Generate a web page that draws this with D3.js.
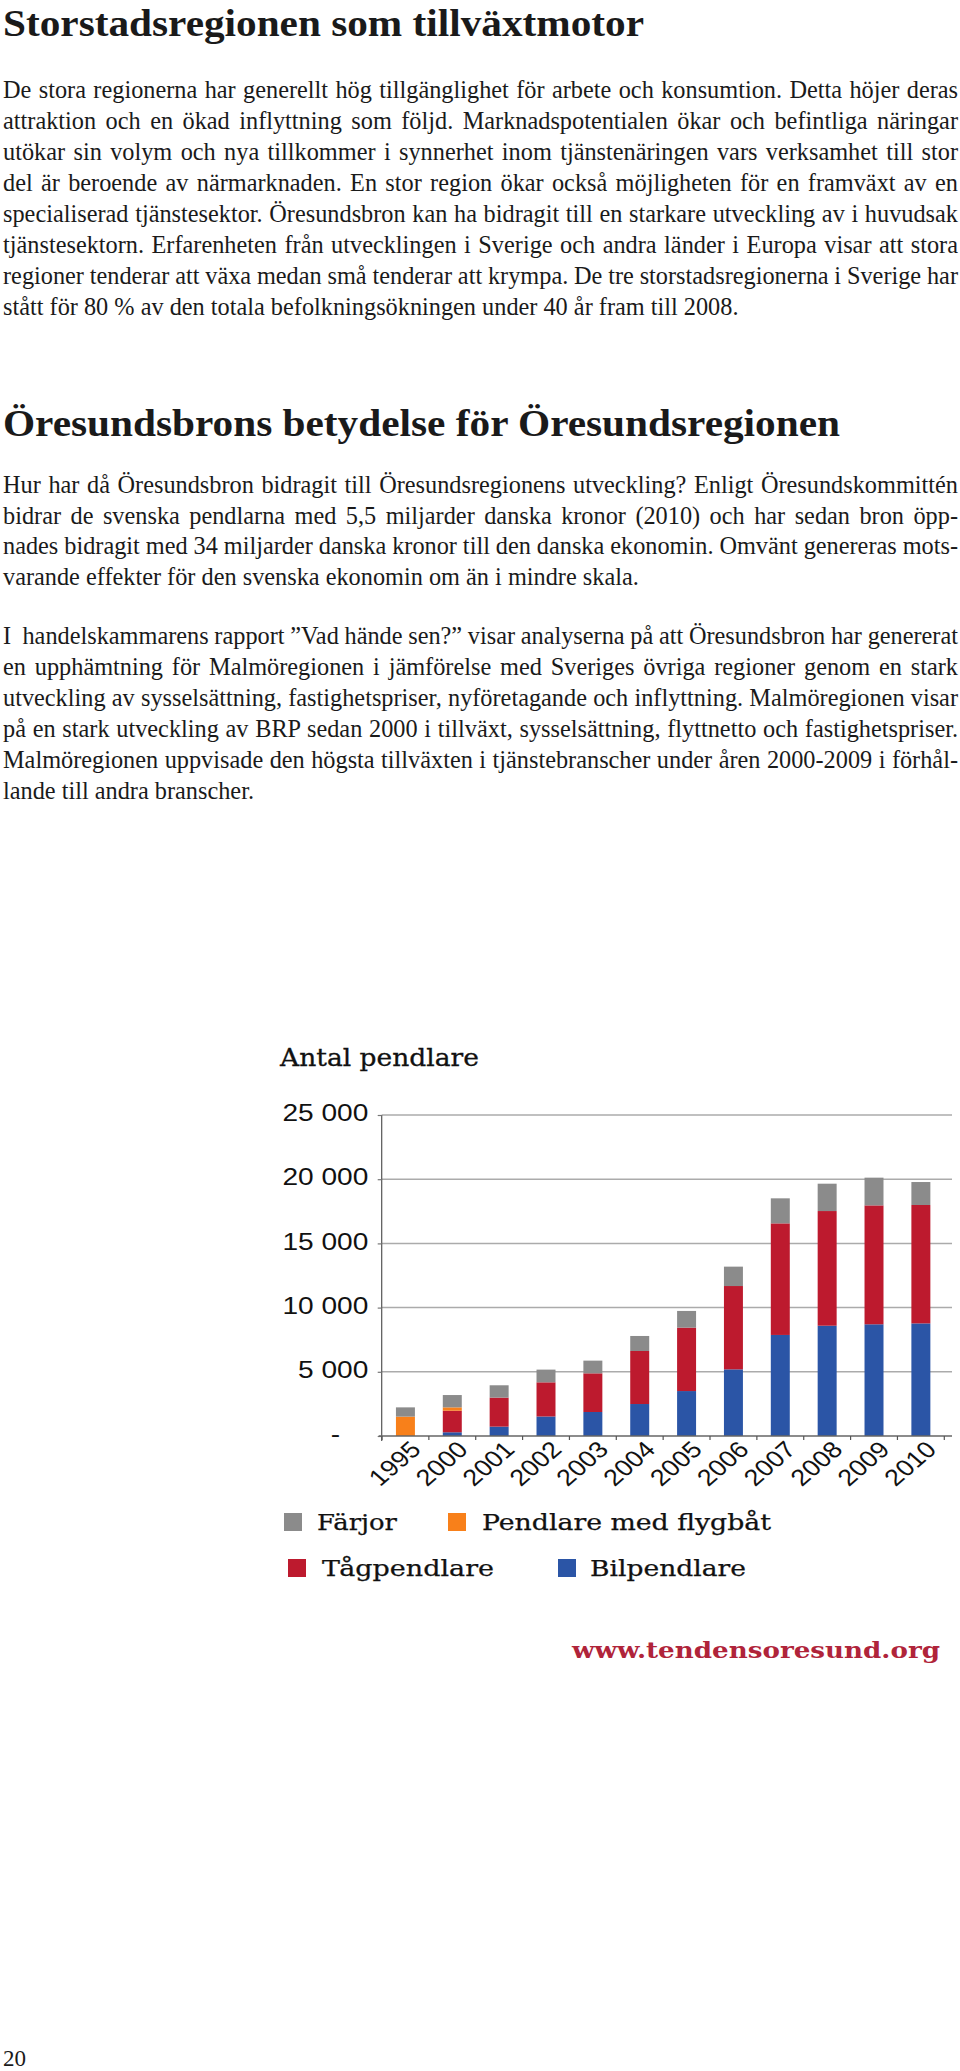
<!DOCTYPE html>
<html><head><meta charset="utf-8">
<script src="https://cdn.jsdelivr.net/npm/d3@7/dist/d3.min.js"></script>
<style>
html,body{margin:0;padding:0;background:#fff;}
svg{display:block;}
</style></head><body>
<svg id="page" width="960" height="2071"></svg>
<script>
// ---------- DATA ----------
const years = ["1995","2000","2001","2002","2003","2004","2005","2006","2007","2008","2009","2010"];
const bilpendlare = [0, 290, 730, 1520, 1870, 2490, 3500, 5190, 7870, 8590, 8700, 8770];
const tagpendlare = [0, 1680, 2260, 2660, 3010, 4130, 4940, 6490, 8690, 8930, 9260, 9220];
const flygbat     = [1510, 260, 0, 0, 0, 0, 0, 0, 0, 0, 0, 0];
const farjor      = [720, 960, 960, 990, 990, 1170, 1300, 1510, 1950, 2130, 2160, 1790];
const seriesKeys  = ["Bilpendlare", "Tågpendlare", "Pendlare med flygbåt", "Färjor"];
const seriesColors = ["#2b55a6", "#bd1a2e", "#f8801a", "#8b8b8b"];
const yTicks = [0, 5000, 10000, 15000, 20000, 25000];
const chartTitle = "Antal pendlare";
const sourceText = "www.tendensoresund.org";
const legendRows = [["Färjor", "Pendlare med flygbåt"], ["Tågpendlare", "Bilpendlare"]];

const heading1 = "Storstadsregionen som tillväxtmotor";
const para1 = [
 "De stora regionerna har generellt hög tillgänglighet för arbete och konsumtion. Detta höjer deras",
 "attraktion och en ökad inflyttning som följd. Marknadspotentialen ökar och befintliga näringar",
 "utökar sin volym och nya tillkommer i synnerhet inom tjänstenäringen vars verksamhet till stor",
 "del är beroende av närmarknaden. En stor region ökar också möjligheten för en framväxt av en",
 "specialiserad tjänstesektor. Öresundsbron kan ha bidragit till en starkare utveckling av i huvudsak",
 "tjänstesektorn. Erfarenheten från utvecklingen i Sverige och andra länder i Europa visar att stora",
 "regioner tenderar att växa medan små tenderar att krympa. De tre storstadsregionerna i Sverige har",
 "stått för 80 % av den totala befolkningsökningen under 40 år fram till 2008."
];
const heading2 = "Öresundsbrons betydelse för Öresundsregionen";
const para2 = [
 "Hur har då Öresundsbron bidragit till Öresundsregionens utveckling? Enligt Öresundskommittén",
 "bidrar de svenska pendlarna med 5,5 miljarder danska kronor (2010) och har sedan bron öpp-",
 "nades bidragit med 34 miljarder danska kronor till den danska ekonomin. Omvänt genereras mots-",
 "varande effekter för den svenska ekonomin om än i mindre skala."
];
const para3 = [
 "I  handelskammarens rapport ”Vad hände sen?” visar analyserna på att Öresundsbron har genererat",
 "en upphämtning för Malmöregionen i jämförelse med Sveriges övriga regioner genom en stark",
 "utveckling av sysselsättning, fastighetspriser, nyföretagande och inflyttning. Malmöregionen visar",
 "på en stark utveckling av BRP sedan 2000 i tillväxt, sysselsättning, flyttnetto och fastighetspriser.",
 "Malmöregionen uppvisade den högsta tillväxten i tjänstebranscher under åren 2000-2009 i förhål-",
 "lande till andra branscher."
];
const pageNumber = "20";

// ---------- PAGE TEXT ----------
const svg = d3.select("#page");
const serif = "'Liberation Serif', 'Times New Roman', serif";
const bodySize = 24.3;
const textLeft = 3, textRight = 958;

function heading(txt, y, len) {
  svg.append("text").attr("x", textLeft).attr("y", y)
    .attr("font-family", serif).attr("font-weight", "bold").attr("font-size", 38)
    .attr("fill", "#1a1a1a")
    .attr("textLength", len).attr("lengthAdjust", "spacingAndGlyphs")
    .text(txt);
}
function paragraph(lines, y0, pitch) {
  lines.forEach((ln, i) => {
    const t = svg.append("text").attr("x", textLeft).attr("y", y0 + i * pitch)
      .attr("font-family", serif).attr("font-size", bodySize).attr("fill", "#1a1a1a")
      .style("white-space", "pre")
      .text(ln);
    if (i < lines.length - 1) {
      const w = t.node().getComputedTextLength();
      const spaces = (ln.match(/ /g) || []).length;
      if (spaces > 0) t.attr("word-spacing", ((textRight - textLeft) - w) / spaces);
    }
  });
}
heading(heading1, 36, 641);
paragraph(para1, 98, 31);
heading(heading2, 436, 837);
paragraph(para2, 493, 30.7);
paragraph(para3, 644, 31);
svg.append("text").attr("x", 3).attr("y", 2066).attr("font-family", serif)
  .attr("font-size", 23).attr("fill", "#1a1a1a").text(pageNumber);

// ---------- CHART ----------
const slab = "'DejaVu Serif', serif";
const sans = "'Liberation Sans', Arial, sans-serif";
const sx = 1.17; // horizontal stretch of the original chart image

const x0 = 381.7, xEnd = 952, y0 = 1436, yTop = 1115;
const x = d3.scaleBand().domain(years).range([382, 944.3]).paddingInner(0.595).paddingOuter(0.2975);
const y = d3.scaleLinear().domain([0, 25000]).range([y0, yTop]);

const table = years.map((yr, i) => ({
  year: yr,
  "Bilpendlare": bilpendlare[i],
  "Tågpendlare": tagpendlare[i],
  "Pendlare med flygbåt": flygbat[i],
  "Färjor": farjor[i]
}));
const color = d3.scaleOrdinal().domain(seriesKeys).range(seriesColors);
const stacked = d3.stack().keys(seriesKeys)(table);

const g = svg.append("g");

// gridlines
g.append("g").selectAll("line").data(yTicks.filter(d => d > 0)).join("line")
  .attr("x1", x0).attr("x2", xEnd)
  .attr("y1", d => y(d)).attr("y2", d => y(d))
  .attr("stroke", "#ababab").attr("stroke-width", 1.5);

// y axis
const fmt = d3.formatLocale({thousands: " ", grouping: [3], decimal: ",", currency: ["", ""]}).format(",");
const yAxis = g.append("g").attr("transform", `translate(${x0},0)`)
  .call(d3.axisLeft(y).tickValues(yTicks).tickSize(4).tickPadding(0)
    .tickFormat(d => d === 0 ? "-" : fmt(d)));
yAxis.select(".domain").attr("stroke", "#555").attr("stroke-width", 1.2)
  .attr("d", `M0,${yTop}V${y0 + 5}`);
yAxis.selectAll(".tick line").attr("stroke", "#777").attr("stroke-width", 1.2);
yAxis.selectAll(".tick text")
  .attr("font-family", sans).attr("font-size", 24).attr("fill", "#111")
  .attr("x", d => d === 0 ? -41.5 / sx : -13.4 / sx)
  .attr("dy", "0.24em")
  .attr("transform", `scale(${sx},1)`);

// bars
g.append("g").selectAll("g").data(stacked).join("g")
  .attr("fill", d => color(d.key))
  .selectAll("rect").data(d => d).join("rect")
  .attr("x", d => x(d.data.year))
  .attr("width", x.bandwidth())
  .attr("y", d => y(d[1]))
  .attr("height", d => y(d[0]) - y(d[1]));

// x axis line and boundary ticks
g.append("line").attr("x1", x0 - 3).attr("x2", xEnd).attr("y1", y0).attr("y2", y0)
  .attr("stroke", "#666").attr("stroke-width", 1.5);
const step = x.step();
const bounds = years.map(d => x(d) - (step - x.bandwidth()) / 2).concat([x(years[years.length - 1]) + x.bandwidth() + (step - x.bandwidth()) / 2]);
g.append("g").selectAll("line").data(bounds).join("line")
  .attr("x1", d => d).attr("x2", d => d).attr("y1", y0).attr("y2", y0 + 4)
  .attr("stroke", "#555").attr("stroke-width", 1.2);

// x labels
const xAxis = g.append("g").attr("transform", `translate(0,${y0})`)
  .call(d3.axisBottom(x).tickSize(0).tickPadding(0));
xAxis.select(".domain").remove();
xAxis.selectAll(".tick text")
  .attr("font-family", sans).attr("font-size", 23).attr("fill", "#111")
  .attr("text-anchor", "end").attr("y", 0).attr("dy", 0)
  .attr("transform", `translate(17,15) scale(${sx},1) rotate(-45)`);

// chart title
g.append("text").attr("x", 280).attr("y", 1066).attr("font-family", slab)
  .attr("font-size", 25).attr("fill", "#111").attr("stroke", "#111").attr("stroke-width", 0.3)
  .attr("textLength", 199).attr("lengthAdjust", "spacingAndGlyphs").text(chartTitle);

// legend
const legendPos = [
  [{sq: 284, tx: 317, w: 80}, {sq: 448, tx: 482, w: 289}],
  [{sq: 288, tx: 322, w: 172}, {sq: 558, tx: 590, w: 156}]
];
const legendY = [1513, 1559];
legendRows.forEach((row, r) => {
  row.forEach((name, c) => {
    const p = legendPos[r][c];
    g.append("rect").attr("x", p.sq).attr("y", legendY[r]).attr("width", 18).attr("height", 18)
      .attr("fill", color(name));
    g.append("text").attr("x", p.tx).attr("y", legendY[r] + 17).attr("font-family", slab)
      .attr("font-size", 22).attr("fill", "#111").attr("stroke", "#111").attr("stroke-width", 0.25)
      .attr("textLength", p.w).attr("lengthAdjust", "spacingAndGlyphs").text(name);
  });
});

// source
g.append("text").attr("x", 572).attr("y", 1658).attr("font-family", slab)
  .attr("font-weight", "bold").attr("font-size", 22).attr("fill", "#b0243a")
  .attr("textLength", 368).attr("lengthAdjust", "spacingAndGlyphs").text(sourceText);
</script>
</body></html>
